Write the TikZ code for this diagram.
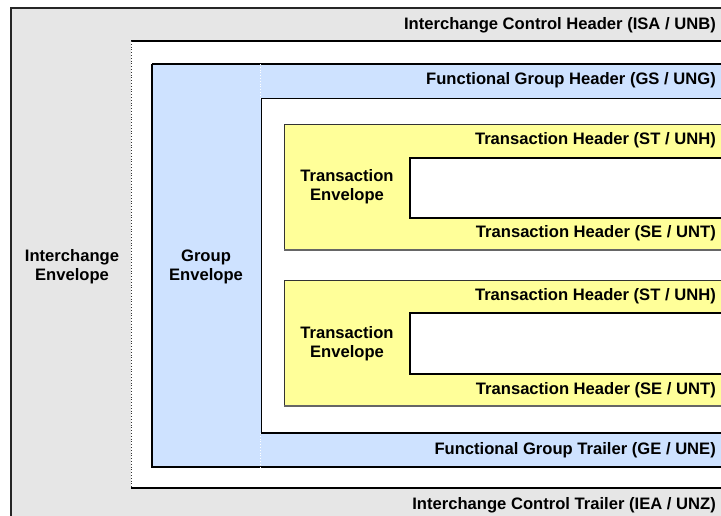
\documentclass[tikz,border=0pt]{standalone}
\usepackage{fontspec}
\setmainfont{Liberation Sans}
\begin{document}
\begin{tikzpicture}[x=1pt,y=-1pt,
  lbl/.style={font=\bfseries\fontsize{16.6}{19}\selectfont, inner sep=0pt, text=black},
  hdr/.style={lbl, anchor=east},
  env/.style={lbl, align=center},
  graybox/.style={fill=grayfill},
  bluebox/.style={fill=bluefill},
  yelbox/.style={fill=yelfill}]
\definecolor{grayfill}{RGB}{230,230,230}
\definecolor{bluefill}{RGB}{206,226,255}
\definecolor{yelfill}{RGB}{255,255,153}
\useasboundingbox (0,0) rectangle (721,515);
\fill[white] (0,0) rectangle (721,515);
% interchange envelope
\fill[grayfill] (11,8) rectangle (740,530);
\draw[line width=2pt, black!85] (740,8) -- (11,8) -- (11,530);
% interchange inner white
\fill[white] (131,41) rectangle (740,488);
\draw[line width=2pt] (131,41) -- (740,41);
\draw[line width=2pt] (131,488) -- (740,488);
\draw[line width=0.8pt, black!80, dotted] (131,41) -- (131,488);
% group envelope
\fill[bluefill] (152,64) rectangle (740,467);
\draw[line width=2pt] (740,64) -- (152,64);
\draw[line width=1.5pt] (152,64) -- (152,467) -- (740,467);
\draw[white, dotted, line width=0.8pt] (260,64) -- (260,98) (260,433) -- (260,467);
% group inner white
\fill[white] (261,98) rectangle (740,433);
\draw[line width=1pt] (740,98) -- (261,98) -- (261,433);
\draw[line width=2pt] (261,433) -- (740,433);
% transaction 1
\fill[yelfill] (284,124) rectangle (740,250);
\draw[line width=1pt, black!80] (740,124) -- (284,124) -- (284,250);
\draw[line width=1.5pt, black!60] (284,250) -- (740,250);
\fill[white] (410,158) rectangle (740,218);
\draw[line width=2pt] (740,158) -- (410,158) -- (410,218) -- (740,218);
% transaction 2
\fill[yelfill] (284,280) rectangle (740,406);
\draw[line width=1pt, black!80] (740,280) -- (284,280) -- (284,406);
\draw[line width=1.5pt, black!60] (284,406) -- (740,406);
\fill[white] (410,313) rectangle (740,374);
\draw[line width=2pt] (740,313) -- (410,313) -- (410,374) -- (740,374);
% labels
\node[hdr] (isa) at (716,25) {Interchange Control Header (ISA / UNB)};
\node[hdr] (gs) at (716,80) {Functional Group Header (GS / UNG)};
\node[hdr] (st1) at (716,140) {Transaction Header (ST / UNH)};
\node[hdr] (se1) at (716,233) {Transaction Header (SE / UNT)};
\node[hdr] (st2) at (716,296) {Transaction Header (ST / UNH)};
\node[hdr] (se2) at (716,390) {Transaction Header (SE / UNT)};
\node[hdr] (ge) at (716,450) {Functional Group Trailer (GE / UNE)};
\node[hdr] (iea) at (716,505) {Interchange Control Trailer (IEA / UNZ)};
\node[env] (ienv) at (72,267) {Interchange\\Envelope};
\node[env] (genv) at (206,267) {Group\\Envelope};
\node[env] (tenv1) at (347,187) {Transaction\\Envelope};
\node[env] (tenv2) at (347,344) {Transaction\\Envelope};
\end{tikzpicture}
\end{document}
